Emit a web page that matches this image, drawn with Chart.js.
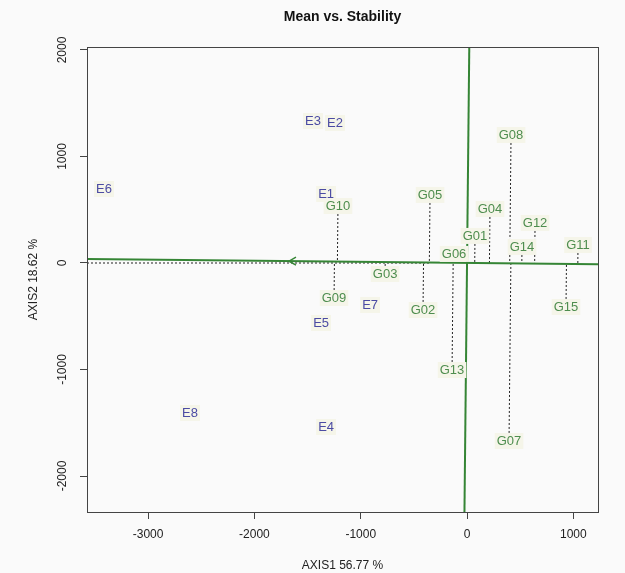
<!DOCTYPE html>
<html>
<head>
<meta charset="utf-8">
<script src="https://cdn.jsdelivr.net/npm/chart.js@4.4.0/dist/chart.umd.min.js"></script>
<style>
  html, body { margin: 0; padding: 0; background: #fafafa; }
  #wrap { width: 625px; height: 573px; }
</style>
</head>
<body>
<div id="wrap"><canvas id="mycanvas" width="625" height="573"></canvas></div>
<script>
// environments (blue labels)
var envNames = ['E1', 'E2', 'E3', 'E4', 'E5', 'E6', 'E7', 'E8'];
var envX = [-1326, -1242, -1449, -1326, -1373, -3415, -912, -2606];
var envY = [648, 1315, 1333, -1540, -563, 695, -394, -1408];

// genotypes (green labels)
var genNames = ['G01', 'G02', 'G03', 'G04', 'G05', 'G06', 'G07', 'G08',
                'G09', 'G10', 'G11', 'G12', 'G13', 'G14', 'G15'];
var genX = [75, -414, -771, 216, -348, -122, 395, 414, -1251, -1214, 1044, 640, -141, 517, 931];
var genY = [254, -441, -103, 507, 639, 85, -1671, 1202, -329, 535, 169, 376, -1005, 150, -413];

var xTicks = [-3000, -2000, -1000, 0, 1000];
var yTicks = [-2000, -1000, 0, 1000, 2000];
var xRange = [-3575, 1232];
var yRange = [-2338, 2028];

// slope of the average environment axis, arrow position on it
var aecSlope = -0.0104;
var arrowX = -1675;
var dotEndX = -350;

var FONT = '"Liberation Sans", Arial, sans-serif';
var envColor = '#4b4ba3';
var genColor = '#4e8d4e';
var lineGreen = '#358535';

function onAxis(x) { return { x: x, y: aecSlope * x }; }
function foot(x, y) {
  // projection of (x,y) onto the average environment axis
  var d = 1 + aecSlope * aecSlope;
  var t = (x + aecSlope * y) / d;
  return { x: t, y: aecSlope * t };
}

var datasets = [];

// projection lines
for (var i in genNames) {
  datasets.push({
    data: [{ x: genX[i], y: genY[i] }, foot(genX[i], genY[i])],
    showLine: true, borderColor: '#222', borderWidth: 1, borderDash: [2, 2],
    pointRadius: 0, order: 3
  });
}
datasets.push({
  data: [{ x: xRange[0], y: 0 }, { x: dotEndX, y: 0 }],
  showLine: true, borderColor: '#222', borderWidth: 1, borderDash: [2, 2],
  pointRadius: 0, order: 3
});
// average environment abscissa and ordinate
datasets.push({
  data: [onAxis(xRange[0]), onAxis(xRange[1])],
  showLine: true, borderColor: lineGreen, borderWidth: 2, pointRadius: 0, order: 2
});
datasets.push({
  data: [{ x: -aecSlope * yRange[0], y: yRange[0] }, { x: -aecSlope * yRange[1], y: yRange[1] }],
  showLine: true, borderColor: lineGreen, borderWidth: 2, pointRadius: 0, order: 2
});

var envPts = [], genPts = [];
for (var i in envNames) envPts.push({ x: envX[i], y: envY[i] });
for (var i in genNames) genPts.push({ x: genX[i], y: genY[i] });
datasets.push({ label: 'env', data: envPts, pointRadius: 0, order: 1 });
datasets.push({ label: 'gen', data: genPts, pointRadius: 0, order: 1 });

var drawPlugin = {
  id: 'biplotText',
  beforeDraw: function(chart) {
    var ctx = chart.ctx;
    ctx.save();
    ctx.fillStyle = '#fafafa';
    ctx.fillRect(0, 0, chart.width, chart.height);
    ctx.restore();
  },
  afterDatasetsDraw: function(chart) {
    var ctx = chart.ctx, a = chart.chartArea;
    var xs = chart.scales.x, ys = chart.scales.y;
    ctx.save();

    // arrow on the abscissa
    var px = xs.getPixelForValue(arrowX), py = ys.getPixelForValue(aecSlope * arrowX);
    ctx.strokeStyle = lineGreen; ctx.lineWidth = 1.5;
    ctx.beginPath();
    ctx.moveTo(px + 7, py - 4); ctx.lineTo(px, py); ctx.lineTo(px + 7, py + 4);
    ctx.stroke();

    ctx.font = '13px ' + FONT;
    ctx.textAlign = 'center';
    ctx.textBaseline = 'middle';
    function label(txt, x, y, col) {
      var lx = xs.getPixelForValue(x), ly = ys.getPixelForValue(y);
      var w = ctx.measureText(txt).width;
      ctx.fillStyle = '#f5f5e9';
      ctx.fillRect(lx - w / 2 - 2, ly - 8, w + 4, 16);
      ctx.fillStyle = col;
      ctx.fillText(txt, lx, ly);
    }
    for (var i in envNames) label(envNames[i], envX[i], envY[i], envColor);
    for (var i in genNames) label(genNames[i], genX[i], genY[i], genColor);

    // box
    ctx.strokeStyle = '#444'; ctx.lineWidth = 1;
    ctx.strokeRect(Math.round(a.left) + 0.5, Math.round(a.top) + 0.5,
                   Math.round(a.right - a.left), Math.round(a.bottom - a.top));

    // rotated y tick labels
    ctx.fillStyle = '#222';
    ctx.font = '12px ' + FONT;
    for (var j in yTicks) {
      ctx.save();
      ctx.translate(a.left - 24, ys.getPixelForValue(yTicks[j]));
      ctx.rotate(-Math.PI / 2);
      ctx.fillText(String(yTicks[j]), 0, 0);
      ctx.restore();
    }

    // title
    ctx.font = 'bold 14px ' + FONT;
    ctx.fillStyle = '#111';
    ctx.fillText('Mean vs. Stability', (a.left + a.right) / 2, 17);
    ctx.restore();
  }
};

var ctx = document.getElementById('mycanvas');
var chart = new Chart(ctx, {
  type: 'scatter',
  data: { datasets: datasets },
  options: {
    responsive: false,
    animation: false,
    layout: { padding: { top: 47, right: 27, left: 0, bottom: 0 } },
    plugins: { legend: { display: false }, tooltip: { enabled: false }, title: { display: false } },
    scales: {
      x: {
        type: 'linear', min: xRange[0], max: xRange[1],
        afterBuildTicks: function(s) { s.ticks = xTicks.map(function(v) { return { value: v }; }); },
        afterFit: function(s) { s.height = 61; },
        grid: { drawOnChartArea: false, drawTicks: true, tickLength: 7, color: '#444' },
        border: { display: false },
        ticks: { color: '#222', padding: 8, maxRotation: 0, font: { family: FONT, size: 12 },
                 callback: function(v) { return String(v); } },
        title: { display: true, text: 'AXIS1 56.77 %', color: '#222', padding: { top: 0, bottom: 0 },
                 font: { family: FONT, size: 12 } }
      },
      y: {
        type: 'linear', min: yRange[0], max: yRange[1],
        afterBuildTicks: function(s) { s.ticks = yTicks.map(function(v) { return { value: v }; }); },
        afterFit: function(s) { s.width = 87; },
        grid: { drawOnChartArea: false, drawTicks: true, tickLength: 7, color: '#444' },
        border: { display: false },
        ticks: { color: 'rgba(0,0,0,0)', font: { family: FONT, size: 12 } },
        title: { display: true, text: 'AXIS2 18.62 %', color: '#222', padding: { top: 26, bottom: 0 },
                 font: { family: FONT, size: 12 } }
      }
    }
  },
  plugins: [drawPlugin]
});
</script>
</body>
</html>
